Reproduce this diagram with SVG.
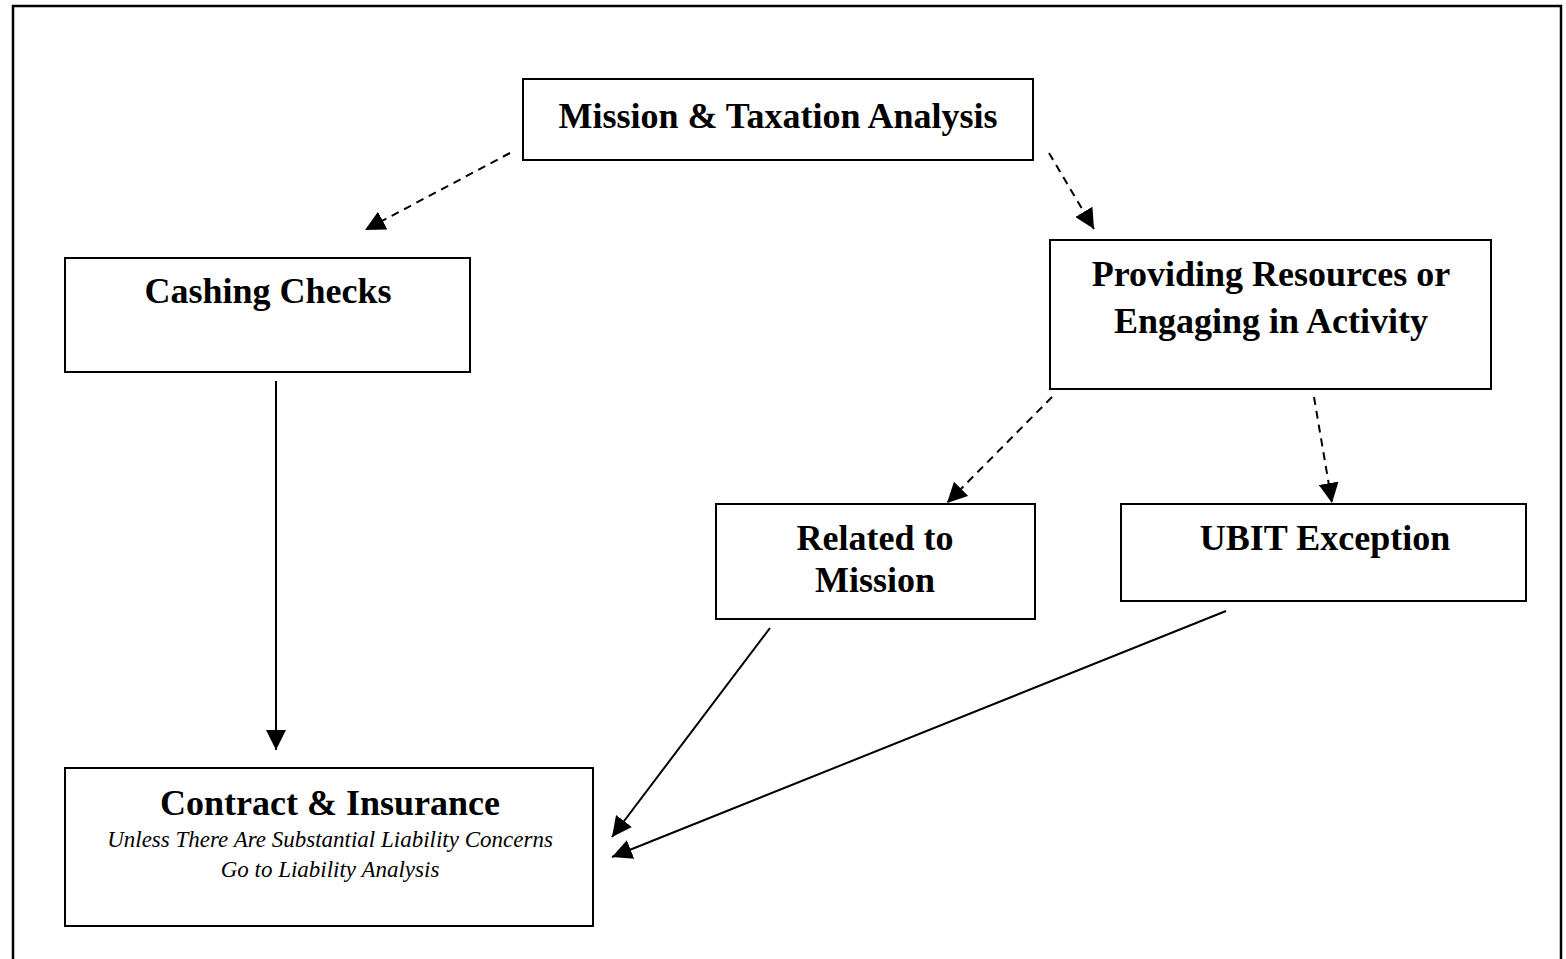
<svg xmlns="http://www.w3.org/2000/svg" width="1566" height="959" viewBox="0 0 1566 959">
<style>
.box{fill:#fff;stroke:#000;stroke-width:2}
.t{font-family:"Liberation Serif","Times New Roman",serif;font-weight:bold;font-size:36px;text-anchor:middle;fill:#000}
.i{font-family:"Liberation Serif","Times New Roman",serif;font-style:italic;font-size:23px;text-anchor:middle;fill:#000}
.c{stroke:#000;stroke-width:2;fill:none}
.d{stroke-dasharray:8,6}
</style>
<defs>
<marker id="ahl" viewBox="0 0 10 10" refX="10" refY="5" markerWidth="10" markerHeight="10" orient="auto"><path d="M0,0 L10,5 L0,10 z" fill="#000"/></marker>
</defs>
<rect x="13" y="6" width="1548" height="960" fill="#fff" stroke="#000" stroke-width="2.5"/>
<g id="connectors">
<line class="c d" x1="510" y1="153" x2="365" y2="230" marker-end="url(#ahl)"/>
<line class="c d" x1="1049" y1="153" x2="1094" y2="229" marker-end="url(#ahl)"/>
<line class="c d" x1="1052" y1="397" x2="947" y2="503" marker-end="url(#ahl)"/>
<line class="c d" x1="1314" y1="397" x2="1332" y2="503" marker-end="url(#ahl)"/>
<line class="c" x1="276" y1="381" x2="276" y2="750" marker-end="url(#ahl)"/>
<line class="c" x1="770" y1="628" x2="612" y2="837" marker-end="url(#ahl)"/>
<line class="c" x1="1226" y1="611" x2="612" y2="857" marker-end="url(#ahl)"/>
</g>
<g id="mission"><rect class="box" x="523" y="79" width="510" height="81"/><text class="t" x="778" y="128">Mission &amp; Taxation Analysis</text></g>
<g id="cashing"><rect class="box" x="65" y="258" width="405" height="114"/><text class="t" x="268" y="303">Cashing Checks</text></g>
<g id="providing"><rect class="box" x="1050" y="240" width="441" height="149"/><text class="t" x="1271" y="286">Providing Resources or</text><text class="t" x="1271" y="333">Engaging in Activity</text></g>
<g id="related"><rect class="box" x="716" y="504" width="319" height="115"/><text class="t" x="875" y="550">Related to</text><text class="t" x="875" y="592">Mission</text></g>
<g id="ubit"><rect class="box" x="1121" y="504" width="405" height="97"/><text class="t" x="1325" y="550">UBIT Exception</text></g>
<g id="contract"><rect class="box" x="65" y="768" width="528" height="158"/><text class="t" x="330" y="815">Contract &amp; Insurance</text><text class="i" x="330" y="847">Unless There Are Substantial Liability Concerns</text><text class="i" x="330" y="877">Go to Liability Analysis</text></g>
</svg>
